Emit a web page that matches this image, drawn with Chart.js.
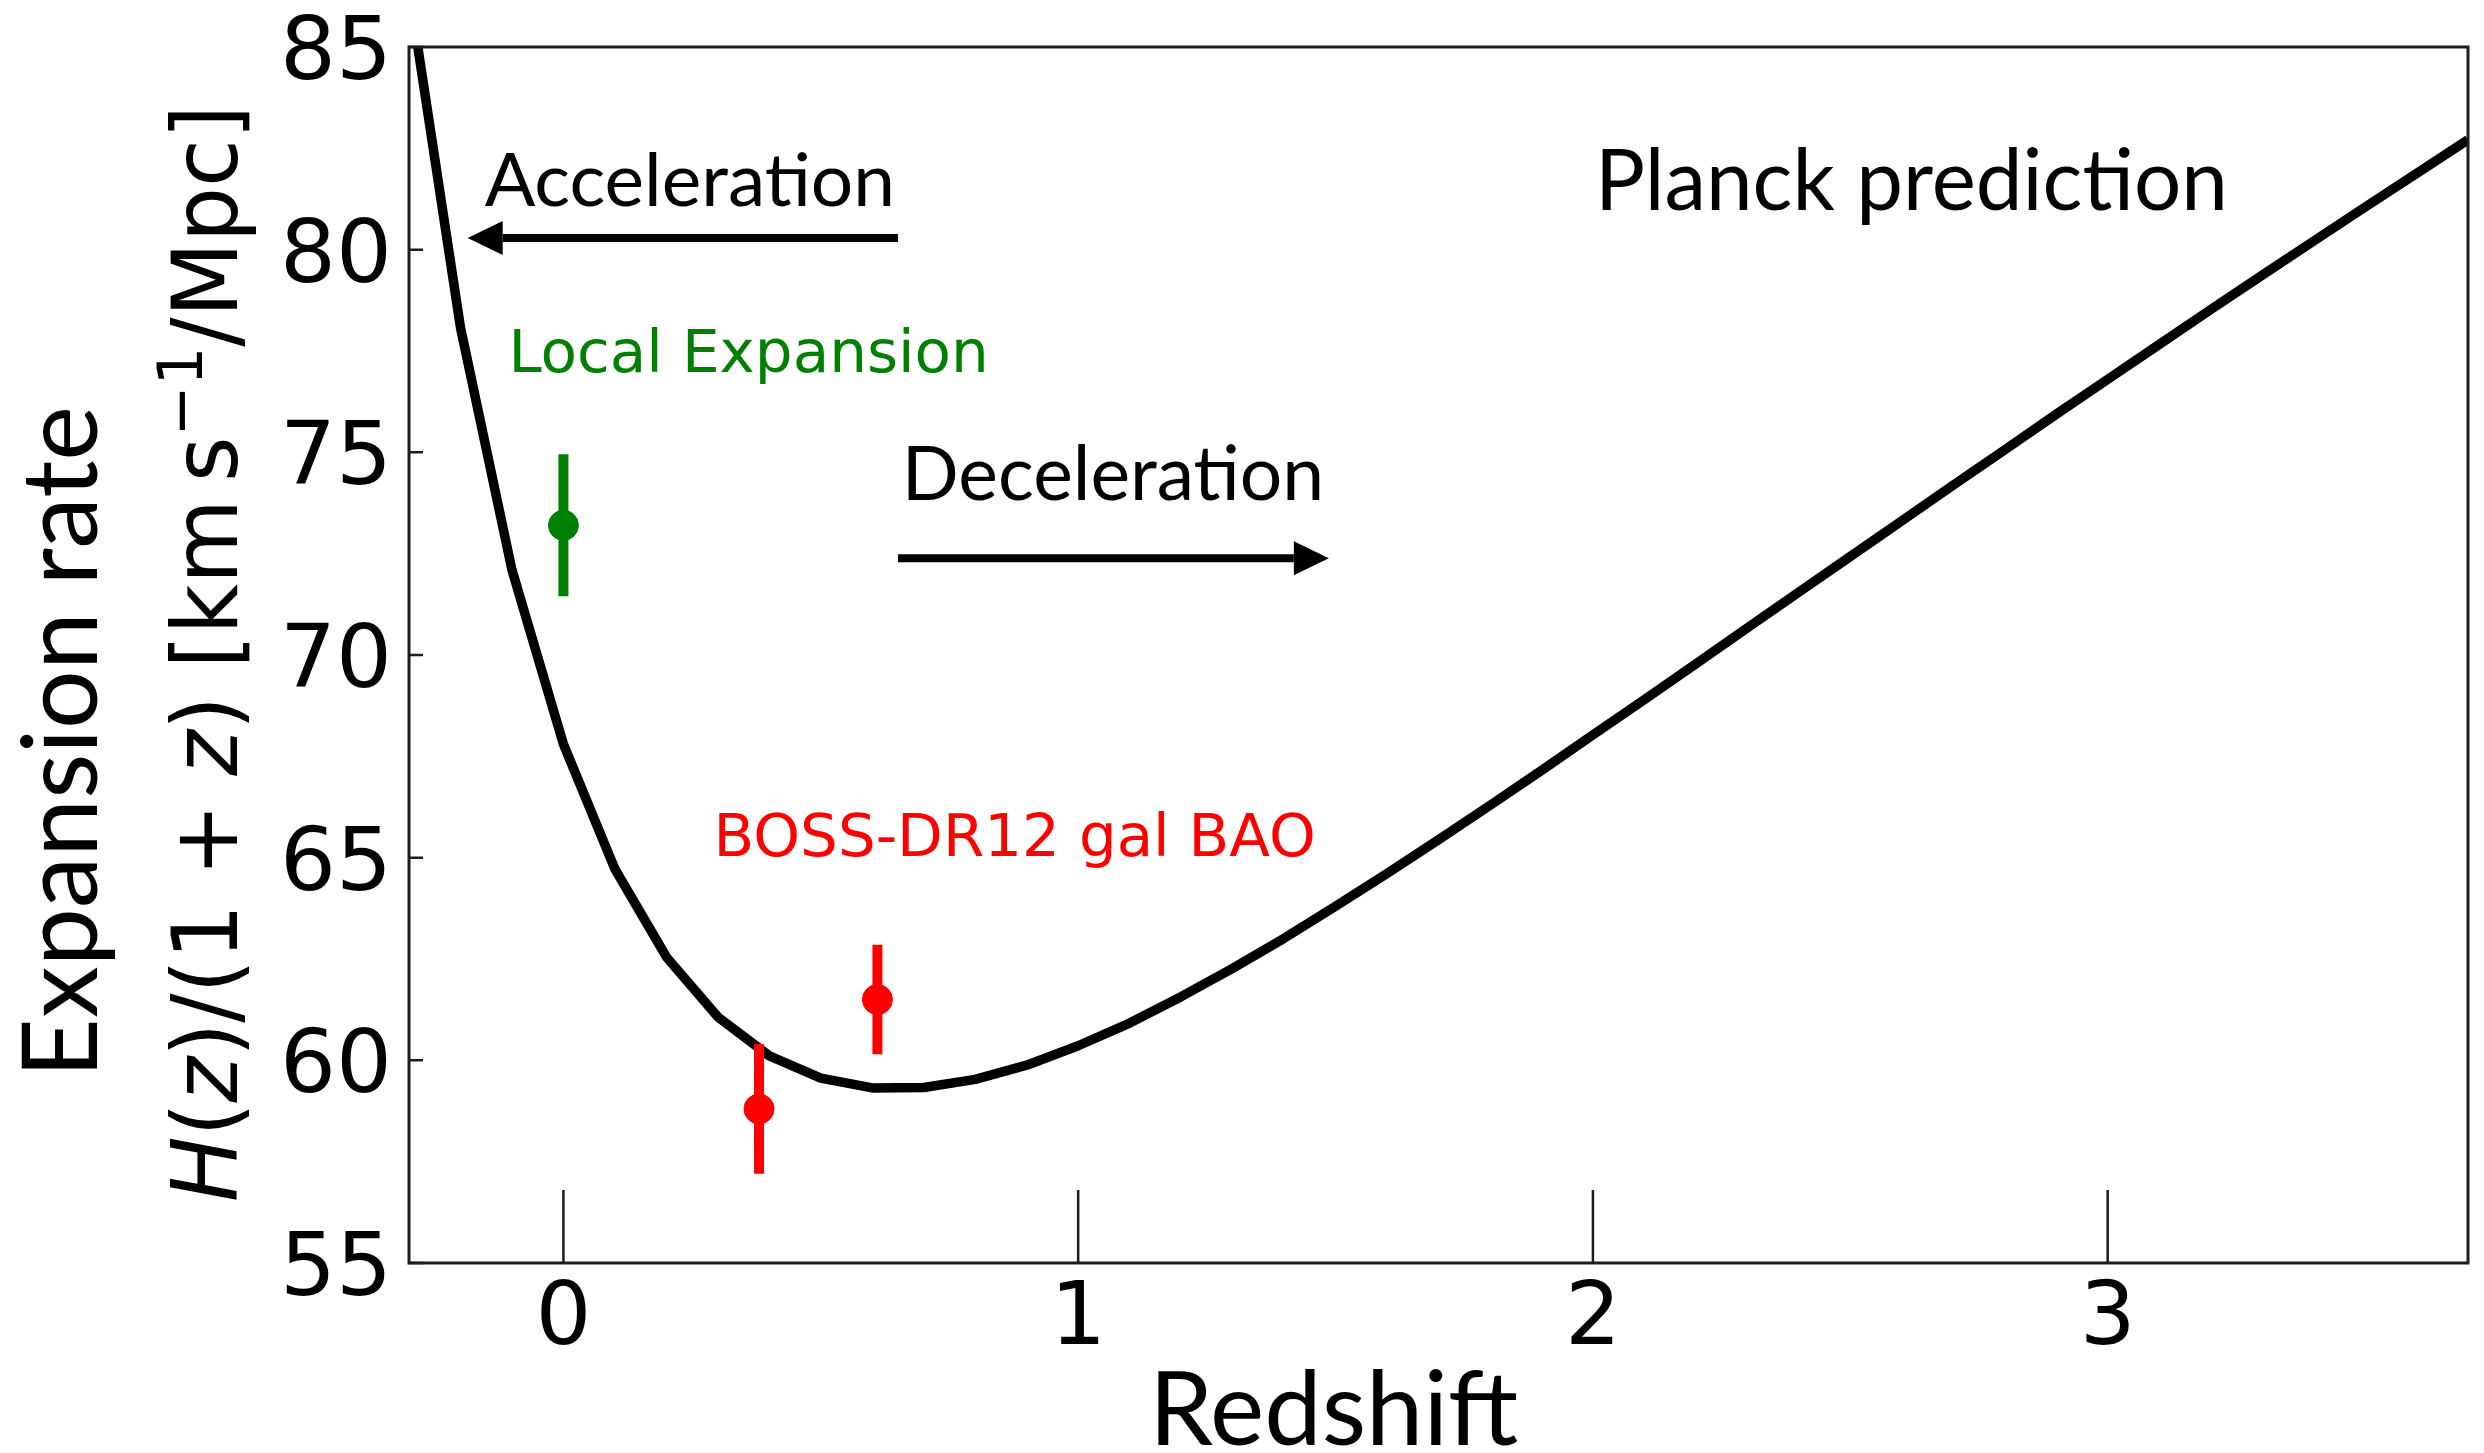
<!DOCTYPE html>
<html>
<head>
<meta charset="utf-8">
<title>Expansion rate vs redshift</title>
<script src="https://cdn.jsdelivr.net/npm/chart.js@4.4.1/dist/chart.umd.min.js"></script>
<style>
  html, body { margin: 0; padding: 0; background: #ffffff; }
  canvas { display: block; }
</style>
</head>
<body>
<canvas id="chart" width="2484" height="1453"></canvas>
<script>
// ---- Data -----------------------------------------------------------------
// Planck LCDM prediction: redshift grid and H(z)/(1+z) in km/s/Mpc
const planckZ = [-0.3, -0.2, -0.1, 0.0, 0.1, 0.2, 0.3, 0.4, 0.5, 0.6, 0.7, 0.8, 0.9,
                 1.0, 1.1, 1.2, 1.3, 1.4, 1.5, 1.6, 1.7, 1.8, 1.9, 2.0, 2.1, 2.2, 2.3,
                 2.4, 2.5, 2.6, 2.7, 2.8, 2.9, 3.0, 3.1, 3.2, 3.3, 3.4, 3.5, 3.6, 3.7];
const planckH = [86.43, 78.08, 72.10, 67.80, 64.72, 62.55, 61.07, 60.11, 59.56, 59.32, 59.33,
                 59.53, 59.88, 60.36, 60.92, 61.57, 62.27, 63.01, 63.80, 64.61, 65.44, 66.29,
                 67.15, 68.03, 68.90, 69.78, 70.67, 71.55, 72.43, 73.31, 74.19, 75.06, 75.94,
                 76.80, 77.66, 78.52, 79.37, 80.21, 81.05, 81.88, 82.71];

// Local (distance ladder) expansion rate
const localZ = [0.0];
const localH = [73.2];
const localErr = [1.75];

// BOSS DR12 galaxy BAO measurements
const bossZ = [0.38, 0.61];
const bossH = [58.8, 61.5];
const bossErr = [1.6, 1.35];

// Axis ticks
const xTicks = [0, 1, 2, 3];
const yTicks = [55, 60, 65, 70, 75, 80, 85];

// ---- Styling ----------------------------------------------------------------
const GREEN = '#008000';
const RED = '#ff0000';
const INK = '#000000';
const SPINE = '#1c1c1c';
const HUMANIST = 'Lato, "Open Sans", sans-serif';
const DEJAVU = '"DejaVu Sans", sans-serif';

// Text annotations placed in data coordinates: ink left/right (redshift),
// baseline and cap-top (expansion rate).
const notes = [
  { text: 'Acceleration',      family: HUMANIST, color: INK,   x0: -0.153, x1: 0.636, base: 81.08, cap: 82.41 },
  { text: 'Deceleration',      family: HUMANIST, color: INK,   x0: 0.669,  x1: 1.470, base: 73.82, cap: 75.18 },
  { text: 'Planck prediction', family: HUMANIST, color: INK,   x0: 2.017,  x1: 3.224, base: 80.98, cap: 82.53 },
  { text: 'Local Expansion',   family: DEJAVU,   color: GREEN, x0: -0.097, x1: 0.818, base: 76.98, cap: 78.04 },
  { text: 'BOSS-DR12 gal BAO', family: DEJAVU,   color: RED,   x0: 0.3015, x1: 1.456, base: 65.03, cap: 66.08 }
];
// Arrows (tail -> head) in data coordinates
const arrows = [
  { from: [0.650, 80.29], to: [-0.186, 80.29] },
  { from: [0.650, 72.39], to: [1.487, 72.39] }
];

// ---- Helpers ------------------------------------------------------------------
function capRatio(ctx, fontSpec) {
  ctx.font = '100px ' + fontSpec;
  return ctx.measureText('H').actualBoundingBoxAscent / 100;
}

// Draws text whose ink spans [left, right] with the given baseline and cap top
// (all in the current coordinate system).
function fitText(ctx, text, family, color, left, right, baseline, capTop, style) {
  const st = style || 'normal';
  const ratio = capRatio(ctx, family);
  const size = Math.abs(baseline - capTop) / ratio;
  ctx.font = st + ' ' + size + 'px ' + family;
  const m = ctx.measureText(text);
  const inkW = m.actualBoundingBoxLeft + m.actualBoundingBoxRight;
  const s = (right - left) / inkW;
  ctx.save();
  ctx.translate(left, baseline);
  ctx.scale(s, 1);
  ctx.fillStyle = color;
  ctx.textAlign = 'left';
  ctx.textBaseline = 'alphabetic';
  ctx.fillText(text, m.actualBoundingBoxLeft, 0);
  ctx.restore();
}

function drawArrow(ctx, x1, y1, x2, y2) {
  const ang = Math.atan2(y2 - y1, x2 - x1);
  const headLen = 35, headHalf = 17, shaft = 8;
  const bx = x2 - headLen * Math.cos(ang);
  const by = y2 - headLen * Math.sin(ang);
  ctx.save();
  ctx.strokeStyle = INK;
  ctx.fillStyle = INK;
  ctx.lineWidth = shaft;
  ctx.lineCap = 'butt';
  ctx.beginPath();
  ctx.moveTo(x1, y1);
  ctx.lineTo(bx, by);
  ctx.stroke();
  ctx.beginPath();
  ctx.moveTo(x2, y2);
  ctx.lineTo(bx - headHalf * Math.sin(ang), by + headHalf * Math.cos(ang));
  ctx.lineTo(bx + headHalf * Math.sin(ang), by - headHalf * Math.cos(ang));
  ctx.closePath();
  ctx.fill();
  ctx.restore();
}

// Mathtext-style axis label H(z)/(1+z) [km s^-1/Mpc], rotated to read upwards.
function drawUnitsLabel(ctx, baselineX, startY, endY) {
  const size = 90;
  const segs = [
    { t: 'H', it: true }, { t: '(' }, { t: 'z', it: true }, { t: ')/(1 + ' },
    { t: 'z', it: true }, { t: ') [km\u2009s' }, { t: '\u22121', sup: true }, { t: '/Mpc]' }
  ];
  const fontOf = sg => (sg.it ? 'italic ' : 'normal ') + (sg.sup ? size * 0.7 : size) + 'px ' + DEJAVU;
  let x = 0, inkStart = 0, inkEnd = 0;
  segs.forEach((sg, i) => {
    ctx.font = fontOf(sg);
    const m = ctx.measureText(sg.t);
    sg.x = x;
    if (i === 0) inkStart = x - m.actualBoundingBoxLeft;
    if (i === segs.length - 1) inkEnd = x + m.actualBoundingBoxRight;
    x += m.width;
  });
  const s = (startY - endY) / (inkEnd - inkStart);
  ctx.save();
  ctx.translate(baselineX, startY);
  ctx.rotate(-Math.PI / 2);
  ctx.scale(s, 1);
  ctx.translate(-inkStart, 0);
  ctx.fillStyle = INK;
  ctx.textAlign = 'left';
  ctx.textBaseline = 'alphabetic';
  segs.forEach(sg => {
    ctx.font = fontOf(sg);
    ctx.fillText(sg.t, sg.x, sg.sup ? -0.39 * size : 0);
  });
  ctx.restore();
}

// ---- Plugin: frame, inward ticks, annotations and axis titles --------------
const decorations = {
  id: 'decorations',
  afterDatasetsDraw(chart) {
    const { ctx, chartArea: a, scales: { x, y } } = chart;
    ctx.save();

    // inward tick marks
    ctx.strokeStyle = SPINE;
    ctx.lineWidth = 2.5;
    ctx.beginPath();
    xTicks.forEach(v => {
      const px = x.getPixelForValue(v);
      ctx.moveTo(px, a.bottom);
      ctx.lineTo(px, a.bottom - 73);
    });
    yTicks.forEach(v => {
      const py = y.getPixelForValue(v);
      ctx.moveTo(a.left, py);
      ctx.lineTo(a.left + 14, py);
    });
    ctx.stroke();

    // frame
    ctx.lineWidth = 3;
    ctx.strokeRect(a.left, a.top, a.right - a.left, a.bottom - a.top);

    // annotations
    notes.forEach(n => {
      fitText(ctx, n.text, n.family, n.color,
        x.getPixelForValue(n.x0), x.getPixelForValue(n.x1),
        y.getPixelForValue(n.base), y.getPixelForValue(n.cap));
    });
    arrows.forEach(ar => {
      drawArrow(ctx,
        x.getPixelForValue(ar.from[0]), y.getPixelForValue(ar.from[1]),
        x.getPixelForValue(ar.to[0]), y.getPixelForValue(ar.to[1]));
    });

    // axis titles
    fitText(ctx, 'Redshift', HUMANIST, INK, 1158, 1518, 1445, 1370);
    ctx.save();
    ctx.translate(97, 1069);
    ctx.rotate(-Math.PI / 2);
    fitText(ctx, 'Expansion rate', HUMANIST, INK, 0, 659, 0, -76);
    ctx.restore();
    drawUnitsLabel(ctx, 237, 1200, 112);

    ctx.restore();
  }
};

// ---- Datasets -------------------------------------------------------------------
const toPoints = (xs, ys) => xs.map((v, i) => ({ x: v, y: ys[i] }));

function errorBar(z, h, e, color) {
  return {
    type: 'line',
    data: [{ x: z, y: h - e }, { x: z, y: h + e }],
    borderColor: color,
    borderWidth: 10,
    borderCapStyle: 'butt',
    pointRadius: 0,
    showLine: true,
    order: 1
  };
}

const datasets = [
  {
    label: 'Local Expansion',
    data: toPoints(localZ, localH),
    pointRadius: 15,
    pointBackgroundColor: GREEN,
    pointBorderColor: GREEN,
    pointBorderWidth: 1,
    showLine: false,
    order: 0
  },
  {
    label: 'BOSS-DR12 gal BAO',
    data: toPoints(bossZ, bossH),
    pointRadius: 15,
    pointBackgroundColor: RED,
    pointBorderColor: RED,
    pointBorderWidth: 1,
    showLine: false,
    order: 0
  }
];
localZ.forEach((z, i) => datasets.push(errorBar(z, localH[i], localErr[i], GREEN)));
bossZ.forEach((z, i) => datasets.push(errorBar(z, bossH[i], bossErr[i], RED)));
datasets.push({
  label: 'Planck prediction',
  type: 'line',
  data: toPoints(planckZ, planckH),
  borderColor: INK,
  borderWidth: 9.5,
  borderJoinStyle: 'round',
  pointRadius: 0,
  tension: 0,
  showLine: true,
  clip: 0,
  order: 2
});

new Chart(document.getElementById('chart'), {
  type: 'scatter',
  data: { datasets },
  options: {
    responsive: false,
    animation: false,
    devicePixelRatio: 1,
    events: [],
    layout: { padding: { top: 47, right: 7, left: 0, bottom: 0 } },
    plugins: { legend: { display: false }, tooltip: { enabled: false }, title: { display: false } },
    scales: {
      x: {
        type: 'linear',
        min: -0.3,
        max: 3.7,
        bounds: 'data',
        grid: { display: false, drawTicks: false },
        border: { display: false },
        afterBuildTicks: s => { s.ticks = xTicks.map(v => ({ value: v })); },
        afterFit: s => { s.height = 190; s.paddingLeft = 0; s.paddingRight = 0; },
        ticks: {
          autoSkip: false, maxRotation: 0, minRotation: 0,
          padding: 14, color: INK,
          font: { family: 'DejaVu Sans', size: 88, lineHeight: 1 },
          callback: v => String(v)
        }
      },
      y: {
        type: 'linear',
        min: 55,
        max: 85,
        bounds: 'data',
        grid: { display: false, drawTicks: false },
        border: { display: false },
        afterBuildTicks: s => { s.ticks = yTicks.map(v => ({ value: v })); },
        afterFit: s => { s.width = 409; s.paddingTop = 0; s.paddingBottom = 0; },
        ticks: {
          autoSkip: false,
          padding: 17, labelOffset: 9, color: INK,
          font: { family: 'DejaVu Sans', size: 88, lineHeight: 0.6 },
          callback: v => String(v)
        }
      }
    }
  },
  plugins: [decorations]
});
</script>
</body>
</html>
